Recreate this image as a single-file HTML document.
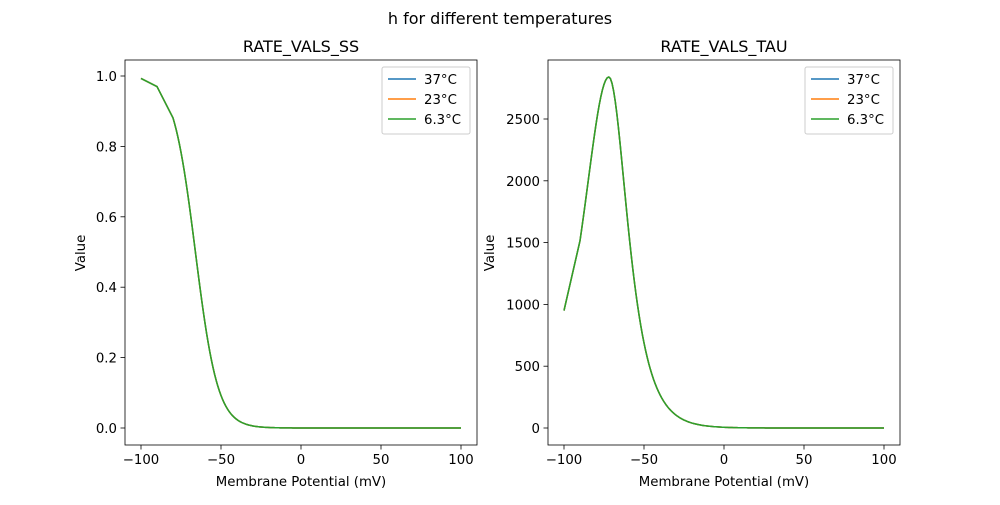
<!DOCTYPE html>
<html><head><meta charset="utf-8"><style>
body{margin:0;background:#fff}
svg text{font-family:"DejaVu Sans","Liberation Sans",sans-serif;font-size:13.3px;fill:#000}
</style></head><body>
<svg id="s" width="1000" height="500" xmlns="http://www.w3.org/2000/svg">
<rect width="1000" height="500" fill="#fff"/>
<text x="500" y="24" text-anchor="middle" style="font-size:16px">h for different temperatures</text>
<text x="301" y="52" text-anchor="middle" style="font-size:16px">RATE_VALS_SS</text>
<text x="724" y="52" text-anchor="middle" style="font-size:16px">RATE_VALS_TAU</text>
<text x="301" y="486" text-anchor="middle">Membrane Potential (mV)</text>
<text x="724" y="486" text-anchor="middle">Membrane Potential (mV)</text>
<text transform="translate(85,253) rotate(-90)" text-anchor="middle">Value</text>
<text transform="translate(494,253) rotate(-90)" text-anchor="middle">Value</text>
<g id="g"></g>
</svg>
<script>
var g=document.getElementById('g'),h='';
function ax(x0,x1,yt,ylab,yfun,pts){
 var X=function(v){return x0+16+(v+100)*1.6};
 [-100,-50,0,50,100].forEach(function(v){var x=X(v);h+='<line x1="'+x+'" y1="445" x2="'+x+'" y2="449.5" stroke="#000" stroke-width="0.8"/><text x="'+x+'" y="464" text-anchor="middle">'+(v<0?'\u2212'+(-v):v)+'</text>';});
 yt.forEach(function(v,i){var y=yfun(v);h+='<line x1="'+(x0-4.5)+'" y1="'+y+'" x2="'+x0+'" y2="'+y+'" stroke="#000" stroke-width="0.8"/><text x="'+(x0-8)+'" y="'+(y+5)+'" text-anchor="end">'+ylab[i]+'</text>';});
 var d='';pts.forEach(function(p,i){d+=(i?'L':'M')+X(p[0]).toFixed(2)+','+yfun(p[1]).toFixed(2)});
 ['#1f77b4','#ff7f0e','#2ca02c'].forEach(function(c){h+='<path d="'+d+'" fill="none" stroke="'+c+'" stroke-width="1.5"/>';});
 h+='<rect x="'+x0+'" y="60" width="'+(x1-x0)+'" height="385" fill="none" stroke="#000" stroke-width="0.8"/>';
 var lx=x1-95,ly=67;
 h+='<rect x="'+lx+'" y="'+ly+'" width="88" height="67" rx="2" fill="#fff" stroke="#ccc"/>';
 [['#1f77b4','37°C'],['#ff7f0e','23°C'],['#2ca02c','6.3°C']].forEach(function(e,i){var y=ly+12+i*20;h+='<line x1="'+(lx+6)+'" y1="'+y+'" x2="'+(lx+34)+'" y2="'+y+'" stroke="'+e[0]+'" stroke-width="1.5"/><text x="'+(lx+42)+'" y="'+(y+5)+'">'+e[1]+'</text>';});
}
var p1=[[-100,0.993],[-90,0.97]];
for(var v=-80;v<=100;v+=1)p1.push([v,1/(1+Math.exp((v+66)/7))]);
ax(125,477,[0,.2,.4,.6,.8,1],['0.0','0.2','0.4','0.6','0.8','1.0'],function(v){return 428-v*352},p1);
var p2=[[-100,950]];
for(var v=-90;v<=100;v+=1){var u=v+72,s=u>0?10.5:14.5;p2.push([v,5680/(Math.exp(u/s)+Math.exp(-u/s))]);}
ax(548,900,[0,500,1000,1500,2000,2500],['0','500','1000','1500','2000','2500'],function(v){return 428-v*0.1236},p2);
g.innerHTML=h;
</script>
</body></html>
